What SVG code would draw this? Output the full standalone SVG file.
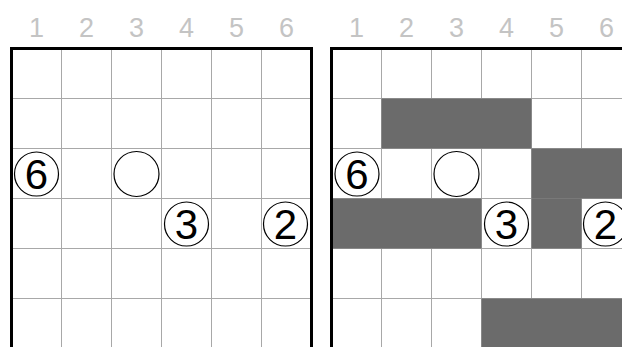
<svg xmlns="http://www.w3.org/2000/svg" width="622" height="347" viewBox="0 0 622 347">
<style>
.lbl{font-family:"Liberation Sans",Arial,sans-serif;font-size:27px;fill:#c4c4c4;text-anchor:middle}
.num{font-family:"Liberation Sans",Arial,sans-serif;font-size:42px;fill:#000;text-anchor:middle}
.grid{stroke:#a8a8a8;stroke-width:1;fill:none}
.border{stroke:#000;stroke-width:3;fill:none;stroke-linecap:square}
.shade{fill:#6b6b6b}
.circ{fill:#fff;stroke:#000;stroke-width:1.2}
</style>
<rect width="622" height="347" fill="#fff"/>
<g id="left-labels">
<text class="lbl" x="36.5" y="37">1</text>
<text class="lbl" x="86.5" y="37">2</text>
<text class="lbl" x="136.5" y="37">3</text>
<text class="lbl" x="186.5" y="37">4</text>
<text class="lbl" x="236.5" y="37">5</text>
<text class="lbl" x="286.5" y="37">6</text>
</g>
<g id="right-labels">
<text class="lbl" x="356.5" y="37">1</text>
<text class="lbl" x="406.5" y="37">2</text>
<text class="lbl" x="456.5" y="37">3</text>
<text class="lbl" x="506.5" y="37">4</text>
<text class="lbl" x="556.5" y="37">5</text>
<text class="lbl" x="606.5" y="37">6</text>
</g>
<g id="left-grid">
<path class="grid" d="M61.5 48.5V347M111.5 48.5V347M161.5 48.5V347M211.5 48.5V347M261.5 48.5V347M11.5 98.5H311.5M11.5 148.5H311.5M11.5 198.5H311.5M11.5 248.5H311.5M11.5 298.5H311.5"/>
<path class="border" d="M11.5 350V48.5H311.5V350"/>
</g>
<g id="right-grid">
<path class="grid" d="M381.5 48.5V347M431.5 48.5V347M481.5 48.5V347M531.5 48.5V347M581.5 48.5V347M331.5 98.5H622M331.5 148.5H622M331.5 198.5H622M331.5 248.5H622M331.5 298.5H622"/>
<rect class="shade" x="381.5" y="98.5" width="150" height="50"/>
<rect class="shade" x="531.5" y="148.5" width="100" height="50"/>
<rect class="shade" x="331.5" y="198.5" width="150" height="50"/>
<rect class="shade" x="531.5" y="198.5" width="50" height="50"/>
<rect class="shade" x="481.5" y="298.5" width="150" height="50"/>
<path class="border" d="M331.5 350V48.5H625"/>
</g>
<g id="left-circles">
<g id="l-6"><circle class="circ" cx="36.5" cy="174" r="22"/><text class="num" x="36.5" y="189">6</text></g>
<g id="l-empty"><circle class="circ" cx="136.5" cy="174" r="22.5"/></g>
<g id="l-3"><circle class="circ" cx="186.5" cy="224" r="22"/><text class="num" x="186.5" y="239">3</text></g>
<g id="l-2"><circle class="circ" cx="285.5" cy="224" r="22"/><text class="num" x="285.5" y="239">2</text></g>
</g>
<g id="right-circles">
<g id="r-6"><circle class="circ" cx="357" cy="174" r="22"/><text class="num" x="357" y="189">6</text></g>
<g id="r-empty"><circle class="circ" cx="456.5" cy="174" r="22.5"/></g>
<g id="r-3"><circle class="circ" cx="506.5" cy="224" r="22"/><text class="num" x="506.5" y="239">3</text></g>
<g id="r-2"><circle class="circ" cx="605.5" cy="224" r="22"/><text class="num" x="605.5" y="239">2</text></g>
</g>
</svg>
